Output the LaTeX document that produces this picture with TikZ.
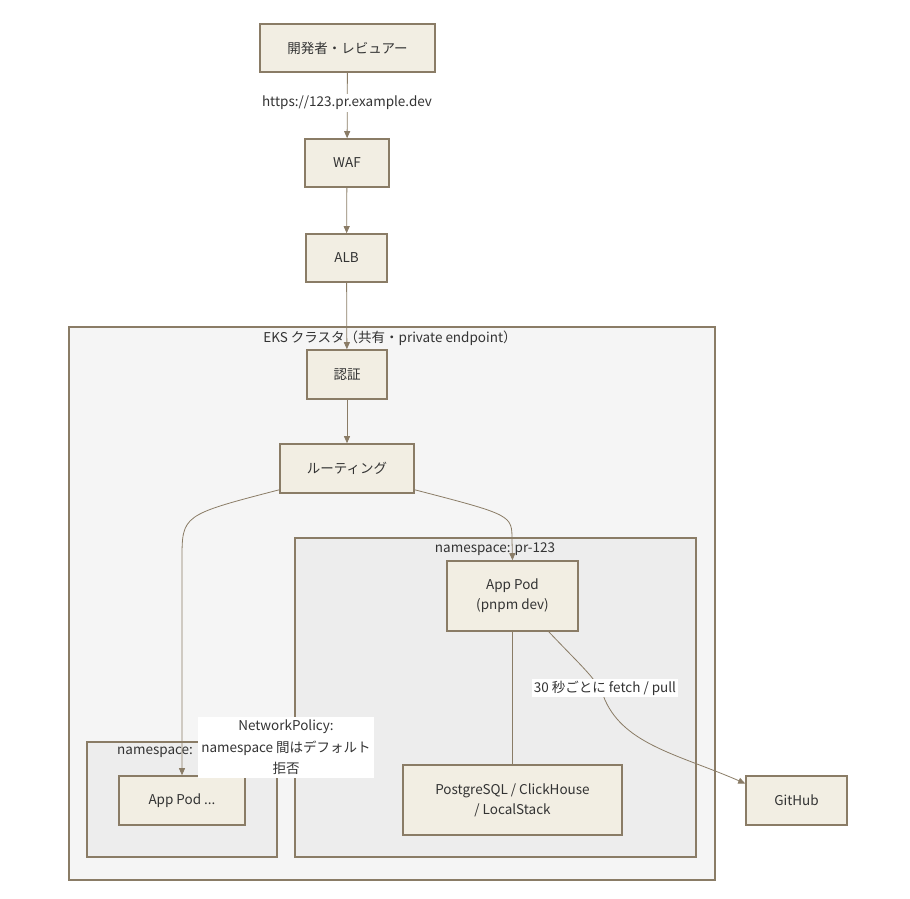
\documentclass[tikz,border=0pt]{standalone}
\usepackage{fontspec}
\setmainfont{Noto Sans CJK JP}
\usepackage{xcolor}
\usepackage{tikz}
\usetikzlibrary{arrows.meta}
\usetikzlibrary{positioning}

\definecolor{boxfill}{HTML}{F2EEE3}
\definecolor{boxline}{HTML}{8A7C66}
\definecolor{clusterfill}{HTML}{F5F5F5}
\definecolor{nsfill}{HTML}{EDEDED}
\definecolor{txt}{HTML}{333333}

\begin{document}
\begin{tikzpicture}[
      x=1pt, y=-1pt,
      >={Triangle[length=7pt,width=6pt]},
      font=\fontsize{13.5}{20}\selectfont, text=txt,
      box/.style={draw=boxline, fill=boxfill, line width=1.6pt, inner sep=0pt, align=center},
      cluster_box/.style={draw=boxline, fill=clusterfill, line width=1.6pt},
      ns_box/.style={draw=boxline, fill=nsfill, line width=1.6pt},
      flow/.style={boxline, line width=0.8pt, ->},
      plain_flow/.style={boxline, line width=0.8pt},
      edge_lbl/.style={fill=white, inner sep=2pt, align=center}
    ]
    \useasboundingbox (0,0) rectangle (910,899);

    % Cluster und Namespaces
    \draw[cluster_box] (69,327) rectangle (715,880);
    \node (eks_lbl) at (390,338) {EKS クラスタ（共有・private endpoint）};
    \draw[ns_box] (295,538) rectangle (696,857);
    \node (ns_pr_lbl) at (495,549) {namespace: pr-123};
    \draw[ns_box] (87,742) rectangle (277,857);
    \node[anchor=west, inner sep=0pt] (ns_other_lbl) at (117,752) {namespace:};

    % Knoten
    \node[box, minimum width=175, minimum height=48] (dev) at (347.5,48) {開発者・レビュアー};
    \node[box, minimum width=84, minimum height=48] (waf) at (347,163) {WAF};
    \node[box, minimum width=81, minimum height=48] (alb) at (346.5,258) {ALB};
    \node[box, minimum width=80, minimum height=49] (auth) at (347,374.5) {認証};
    \node[box, minimum width=134, minimum height=49] (route) at (347,468.5) {ルーティング};
    \node[box, minimum width=131, minimum height=70] (pod) at (512.5,596) {App Pod\\(pnpm dev)};
    \node[box, minimum width=219, minimum height=70] (db) at (512.5,800) {PostgreSQL / ClickHouse\\/ LocalStack};
    \node[box, minimum width=126, minimum height=49] (pod_other) at (182,800.5) {App Pod ...};
    \node[box, minimum width=101, minimum height=49] (github) at (796.5,800.5) {GitHub};

    % Verbindungen
    \draw[flow] (dev) -- (waf);
    \node[edge_lbl] (url_lbl) at (347,103) {https://123.pr.example.dev};
    \draw[flow] (waf) -- (alb);
    \draw[flow] (alb) -- (auth);
    \draw[flow] (auth) -- (route);
    \draw[flow] ([yshift=4pt]route.south west) .. controls (182,515) and (182,515) .. (182,560) -- (pod_other.north);
    \draw[flow] ([yshift=4pt]route.south east) .. controls (512,515) and (512,515) .. (512,540) -- (pod.north);
    \draw[plain_flow] (pod) -- (db);
    \draw[flow] ([xshift=-30pt]pod.south east) .. controls (585,670) and (598,680) .. (605,700)
      .. controls (625,745) and (680,755) .. ([yshift=17pt]github.west);
    \node[edge_lbl] (fetch_lbl) at (605,688) {30 秒ごとに fetch / pull};

    % NetworkPolicy
    \node[edge_lbl, inner sep=3pt, font=\fontsize{13.5}{21.5}\selectfont] (np_lbl) at (286,747.5) {NetworkPolicy:\\namespace 間はデフォルト\\拒否};
  \end{tikzpicture}
\end{document}
